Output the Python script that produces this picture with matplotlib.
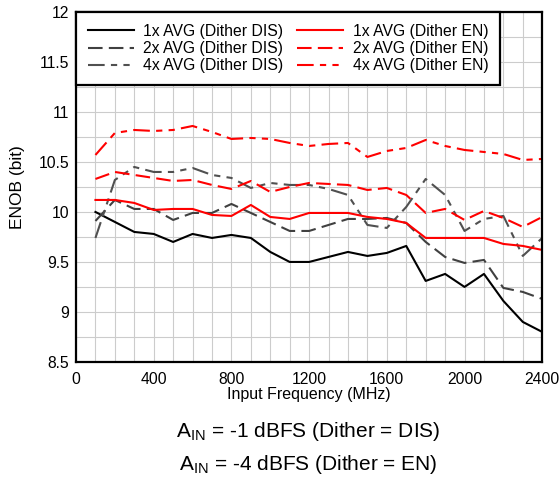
import numpy as np
import matplotlib.pyplot as plt

plt.rcParams['font.family'] = ['Liberation Sans', 'DejaVu Sans']
plt.rcParams['mathtext.fontset'] = 'custom'
plt.rcParams['mathtext.rm'] = 'Liberation Sans'

freq = np.arange(100, 2500, 100)

avg1_dis = [10.0, 9.90, 9.80, 9.78, 9.70, 9.78, 9.74, 9.77, 9.74, 9.60, 9.50, 9.50,
            9.55, 9.60, 9.56, 9.59, 9.66, 9.31, 9.38, 9.25, 9.38, 9.11, 8.90, 8.80]
avg2_dis = [9.91, 10.12, 10.03, 10.03, 9.92, 9.99, 9.99, 10.08, 9.99, 9.90, 9.81, 9.81,
            9.87, 9.93, 9.93, 9.94, 9.89, 9.70, 9.55, 9.49, 9.52, 9.24, 9.20, 9.13]
avg4_dis = [9.74, 10.32, 10.45, 10.40, 10.40, 10.44, 10.37, 10.34, 10.24, 10.29, 10.27, 10.27,
            10.23, 10.17, 9.87, 9.84, 10.05, 10.33, 10.17, 9.81, 9.93, 9.96, 9.56, 9.74]
avg1_en = [10.12, 10.12, 10.09, 10.02, 10.03, 10.03, 9.97, 9.96, 10.07, 9.95, 9.93, 9.99,
           9.99, 9.99, 9.95, 9.93, 9.89, 9.74, 9.74, 9.74, 9.74, 9.68, 9.66, 9.62]
avg2_en = [10.33, 10.40, 10.37, 10.34, 10.31, 10.32, 10.27, 10.23, 10.31, 10.20, 10.25, 10.29,
           10.28, 10.27, 10.22, 10.24, 10.17, 9.99, 10.03, 9.92, 10.01, 9.94, 9.85, 9.95]
avg4_en = [10.57, 10.79, 10.82, 10.81, 10.82, 10.86, 10.80, 10.73, 10.74, 10.73, 10.69, 10.66,
           10.68, 10.69, 10.55, 10.61, 10.64, 10.72, 10.66, 10.62, 10.60, 10.58, 10.52, 10.53]

fig = plt.figure(figsize=(5.59, 4.8), dpi=100)
ax = fig.add_axes([0.136, 0.246, 0.834, 0.729])

dash2 = (0, (7, 3))
dash4 = (0, (8, 3, 3, 3, 3, 3))
ax.plot(freq, avg1_dis, color='black', lw=1.5, label='1x AVG (Dither DIS)')
ax.plot(freq, avg2_dis, color='#404040', lw=1.5, ls=dash2, label='2x AVG (Dither DIS)')
ax.plot(freq, avg4_dis, color='#505050', lw=1.5, ls=dash4, label='4x AVG (Dither DIS)')
ax.plot(freq, avg1_en, color='red', lw=1.5, label='1x AVG (Dither EN)')
ax.plot(freq, avg2_en, color='red', lw=1.5, ls=dash2, label='2x AVG (Dither EN)')
ax.plot(freq, avg4_en, color='red', lw=1.5, ls=dash4, label='4x AVG (Dither EN)')

ax.set_xlim(0, 2400)
ax.set_ylim(8.5, 12)
ax.set_xticks(np.arange(0, 2401, 400))
ax.set_yticks(np.arange(8.5, 12.01, 0.5))
ax.set_yticklabels(['8.5', '9', '9.5', '10', '10.5', '11', '11.5', '12'])
ax.set_xticks(np.arange(0, 2401, 100), minor=True)
ax.set_yticks(np.arange(8.5, 12.01, 0.25), minor=True)
ax.grid(which='both', color='#cccccc', lw=0.8)
ax.set_axisbelow(True)
ax.tick_params(which='both', length=0, labelsize=11.3)
ax.tick_params(axis='x', pad=7)
ax.tick_params(axis='y', pad=5)
for s in ax.spines.values():
    s.set_linewidth(1.6)

ax.set_xlabel('Input Frequency (MHz)', fontsize=11.5, labelpad=0)
ax.set_ylabel('ENOB (bit)', fontsize=12.5, labelpad=10)

leg = ax.legend(ncol=2, loc='upper left', bbox_to_anchor=(0, 1), fontsize=11.3,
                fancybox=False, edgecolor='black', framealpha=1, borderaxespad=0,
                handlelength=2.93, handletextpad=0.6, columnspacing=0.9,
                labelspacing=0.15, borderpad=0.75)
leg.get_frame().set_linewidth(1.6)

fig.text(0.552, 1 - 436.7 / 480, r'A$_{\mathrm{IN}}$ = -1 dBFS (Dither = DIS)',
         ha='center', va='baseline', fontsize=15)
fig.text(0.552, 1 - 470 / 480, r'A$_{\mathrm{IN}}$ = -4 dBFS (Dither = EN)',
         ha='center', va='baseline', fontsize=15)

fig.savefig('out.png', dpi=100)
